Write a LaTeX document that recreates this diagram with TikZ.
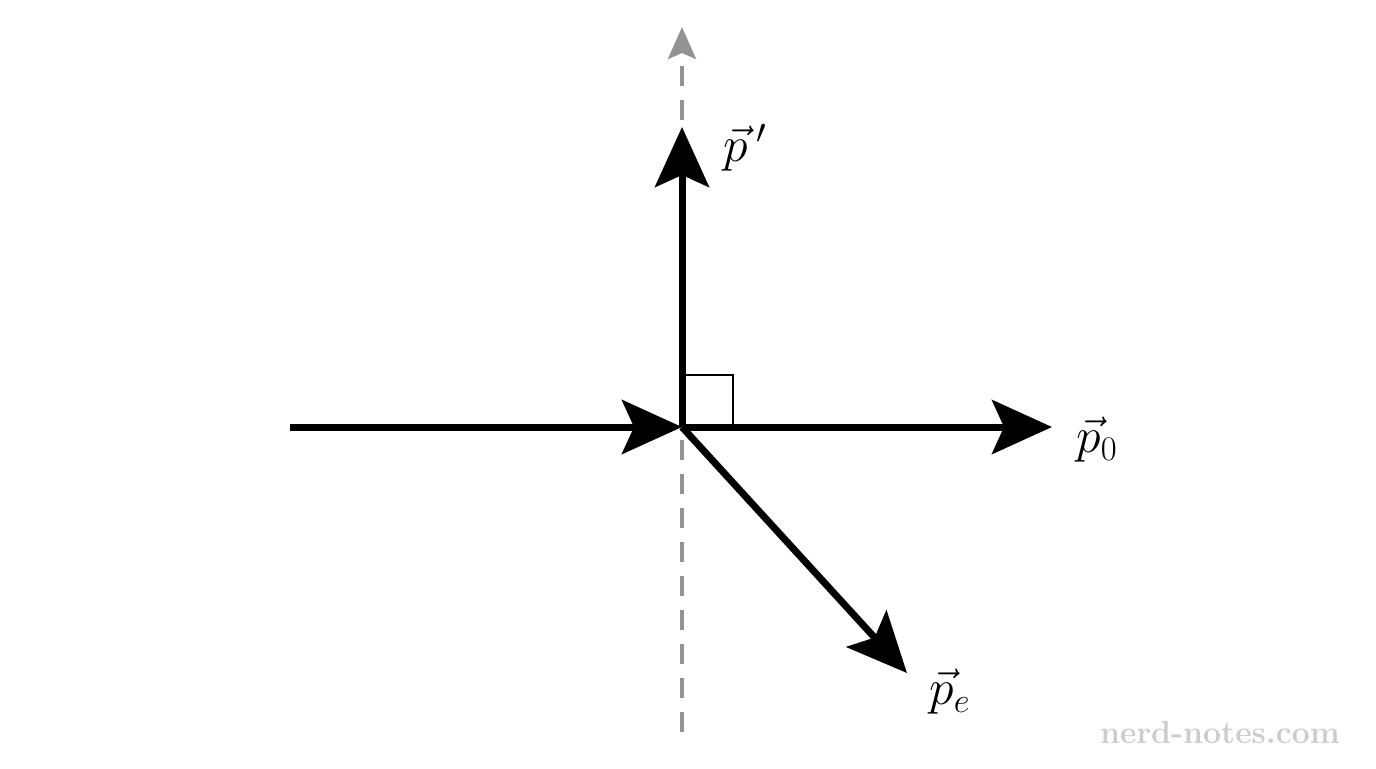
\documentclass[tikz,border=0pt]{standalone}
\usetikzlibrary{arrows.meta}
\begin{document}
\begin{tikzpicture}[x=0.5pt,y=-0.5pt,
 vec/.style={line width=3.5pt,-{Stealth[length=30pt,width=27pt,inset=6pt]}},
 lab/.style={font=\fontsize{27}{30}\selectfont,inner sep=0pt}]
\useasboundingbox (0,0) rectangle (1376,768);
\coordinate (O) at (682,427);
\coordinate (L) at (290,427);
\coordinate (R) at (1052,427);
\coordinate (U) at (682,127);
\coordinate (E) at (907,673);
\coordinate (Db) at (682,732);
\coordinate (Dt) at (682,27);
\draw[gray!85,line width=2pt,dash pattern=on 10pt off 7pt,-{Stealth[length=16pt,width=14pt,inset=3pt]}] (Db) -- (Dt);
\draw[line width=1.2pt] (682,375) -- (733,375) -- (733,427);
\draw[vec] (L) -- (O);
\draw[vec] (O) -- (R);
\draw[vec] (O) -- (U);
\draw[vec] (O) -- (E);
\node[lab] (pp) at (745,148) {$\vec p\,'$};
\node[lab] (p0) at (1097,440) {$\vec p_0$};
\node[lab] (pe) at (950,692) {$\vec p_e$};
\node[font=\fontsize{16}{18}\selectfont\bfseries,text=gray!40] (wm) at (1220,732) {nerd-notes.com};
\end{tikzpicture}
\end{document}
